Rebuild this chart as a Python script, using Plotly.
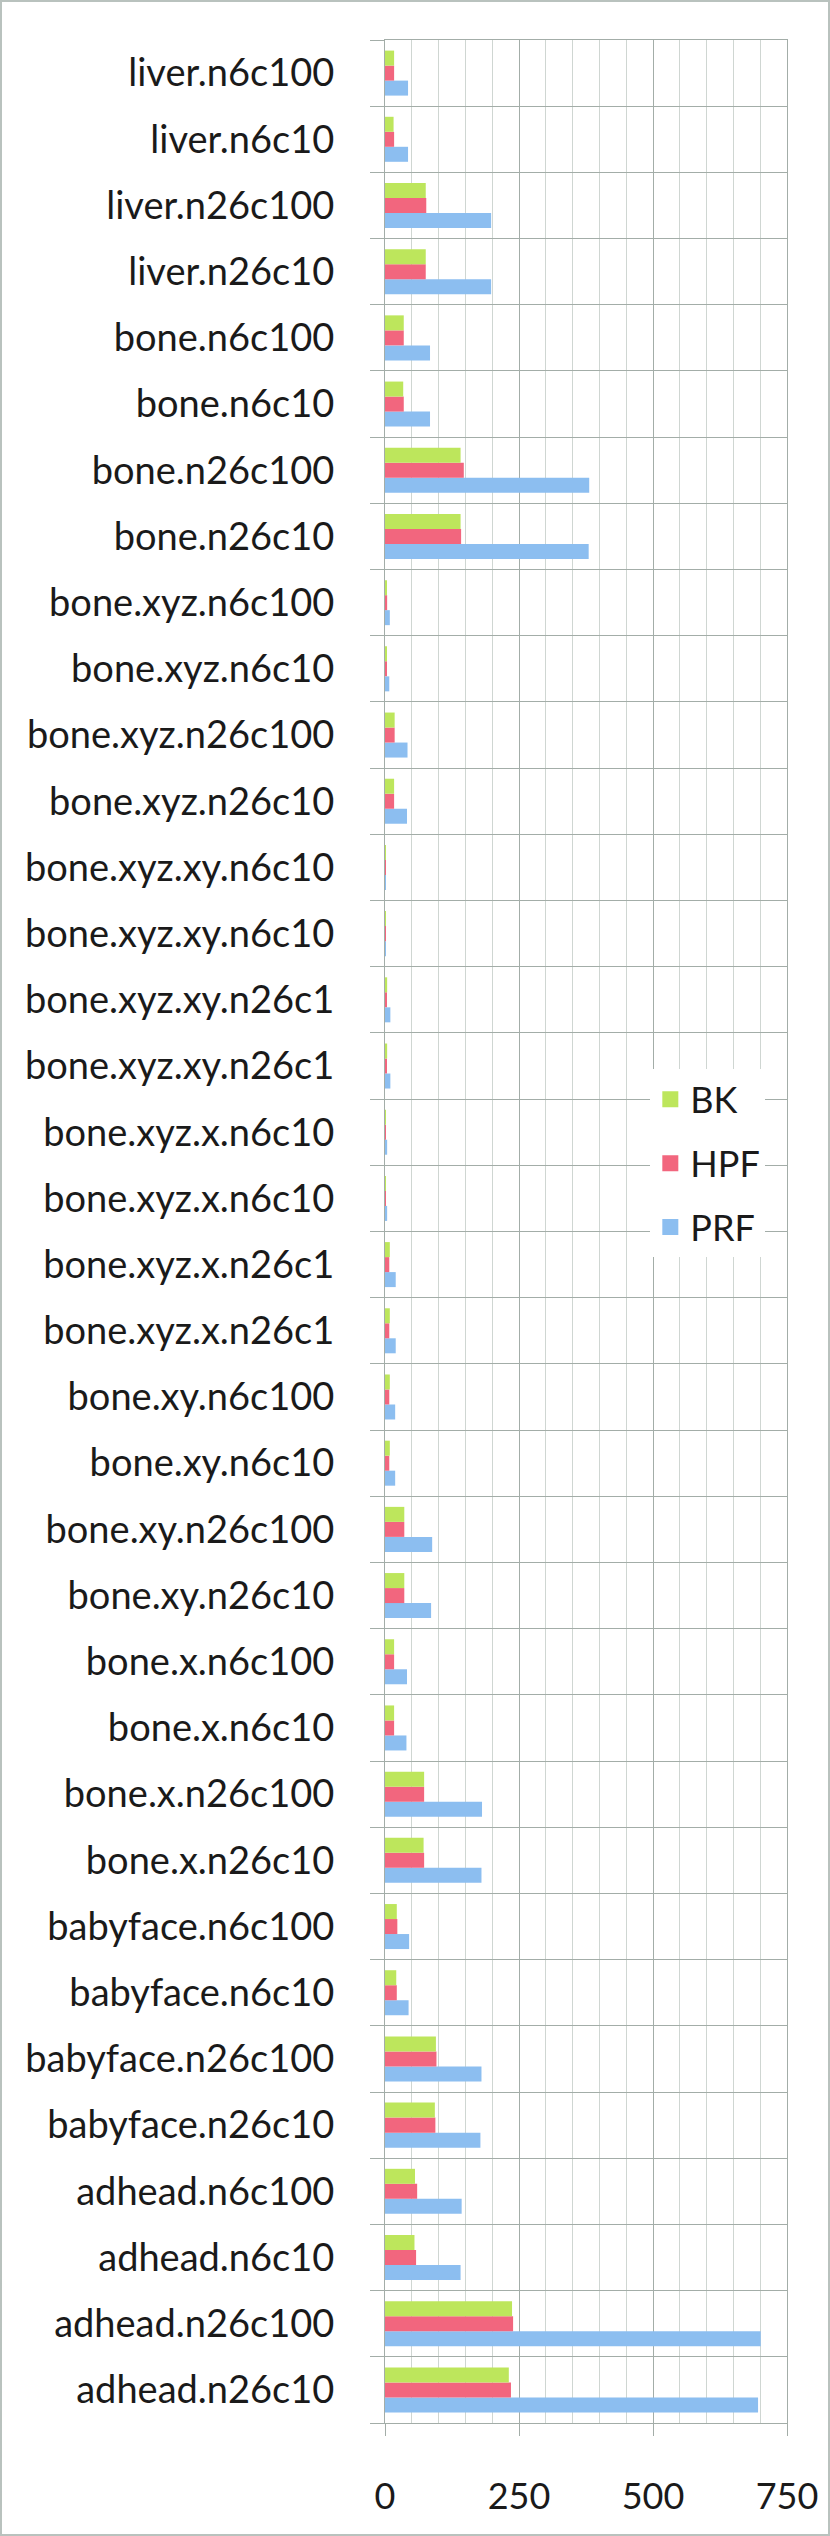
import plotly.graph_objects as go

# categories listed top to bottom as they appear in the chart
labels = [
    "liver.n6c100", "liver.n6c10", "liver.n26c100", "liver.n26c10",
    "bone.n6c100", "bone.n6c10", "bone.n26c100", "bone.n26c10",
    "bone.xyz.n6c100", "bone.xyz.n6c10", "bone.xyz.n26c100", "bone.xyz.n26c10",
    "bone.xyz.xy.n6c10", "bone.xyz.xy.n6c10", "bone.xyz.xy.n26c1", "bone.xyz.xy.n26c1",
    "bone.xyz.x.n6c10", "bone.xyz.x.n6c10", "bone.xyz.x.n26c1", "bone.xyz.x.n26c1",
    "bone.xy.n6c100", "bone.xy.n6c10", "bone.xy.n26c100", "bone.xy.n26c10",
    "bone.x.n6c100", "bone.x.n6c10", "bone.x.n26c100", "bone.x.n26c10",
    "babyface.n6c100", "babyface.n6c10", "babyface.n26c100", "babyface.n26c10",
    "adhead.n6c100", "adhead.n6c10", "adhead.n26c100", "adhead.n26c10",
]

bk = [17, 16, 76, 76, 35, 34, 141, 141, 3, 3, 18, 17,
      0.5, 0.5, 4, 4, 1, 1, 9, 9, 9, 9, 36, 36,
      17, 17, 73, 72, 22, 21, 95, 93, 56, 55, 237, 231]
hpf = [17, 17, 77, 76, 35, 35, 147, 142, 4, 3, 18, 17,
       0.5, 0.5, 3, 3, 1, 1, 8, 8, 8, 8, 36, 36,
       17, 17, 73, 73, 23, 22, 96, 94, 60, 58, 239, 235]
prf = [43, 43, 198, 198, 84, 84, 381, 380, 9, 8, 42, 41,
       1, 1, 10, 10, 4, 4, 20, 20, 19, 19, 88, 86,
       41, 40, 181, 180, 45, 44, 180, 178, 143, 141, 701, 696]

x_ticks = [0, 250, 500, 750]

colors = {"BK": "#bde65c", "HPF": "#f2667e", "PRF": "#8cbef0"}

# first category sits at the top of the axis
pos = list(range(len(labels)))[::-1]

fig = go.Figure()
# PRF first so it ends up lowest in each group
for name, vals in [("PRF", prf), ("HPF", hpf), ("BK", bk)]:
    fig.add_trace(go.Bar(x=vals, y=pos, orientation="h", name=name,
                         marker=dict(color=colors[name], line_width=0),
                         showlegend=False))

# legend entries with bigger square swatches
for name in ["BK", "HPF", "PRF"]:
    fig.add_trace(go.Scatter(x=[None], y=[None], mode="markers", name=name,
                             legendgroup=name,
                             marker=dict(symbol="square", size=16, color=colors[name])))

font = "Lato, 'Open Sans', sans-serif"
W, H = 830, 2536
ml, mr, mt, mb = 385, 43, 40, 113
pw, ph = W - ml - mr, H - mt - mb

fig.update_layout(
    width=W, height=H,
    margin=dict(l=ml, r=mr, t=mt, b=mb),
    plot_bgcolor="white", paper_bgcolor="white",
    barmode="group", bargap=0.32, bargroupgap=0,
    font=dict(family=font, color="#1a1a1a", size=38),
    legend=dict(x=0.66, y=0.568, xanchor="left", yanchor="top",
                bgcolor="white", font=dict(size=36),
                traceorder="grouped", tracegroupgap=14, itemwidth=30),
    shapes=[dict(type="rect", xref="paper", yref="paper",
                 x0=-(ml - 1) / pw, x1=1 + (mr - 1) / pw,
                 y0=-(mb - 1) / ph, y1=1 + (mt - 1) / ph,
                 line=dict(color="#b9c2be", width=2))],
)

fig.update_xaxes(
    range=[0, 750], tickvals=x_ticks, ticktext=[str(v) for v in x_ticks],
    tickfont=dict(size=36),
    showgrid=True, gridcolor="#a3ada8", gridwidth=1.2,
    ticks="outside", ticklen=12, tickcolor="#a3ada8",
    ticklabelstandoff=30, automargin=False,
    minor=dict(dtick=50, tick0=0, showgrid=True, gridcolor="#cfd6d2", gridwidth=1),
    showline=True, linecolor="#a3ada8", linewidth=1.2, mirror=True,
    zeroline=False,
)

fig.update_yaxes(
    range=[-0.5, len(labels) - 0.5], tickmode="array", tickvals=pos, ticktext=labels,
    showgrid=False, ticks="", ticklabelstandoff=42, automargin=False,
    minor=dict(tickmode="linear", tick0=0.5, dtick=1, showgrid=True,
               gridcolor="#a3ada8", gridwidth=1.2,
               ticks="outside", ticklen=14, tickcolor="#a3ada8"),
    showline=True, linecolor="#a3ada8", linewidth=1.2, mirror=True,
    zeroline=False,
)

# drop the default page margin so the full-size figure fits the window
fig.write_html("out.html", config={"displayModeBar": False},
               post_script="document.body.style.margin='0';document.body.style.overflow='hidden';")
